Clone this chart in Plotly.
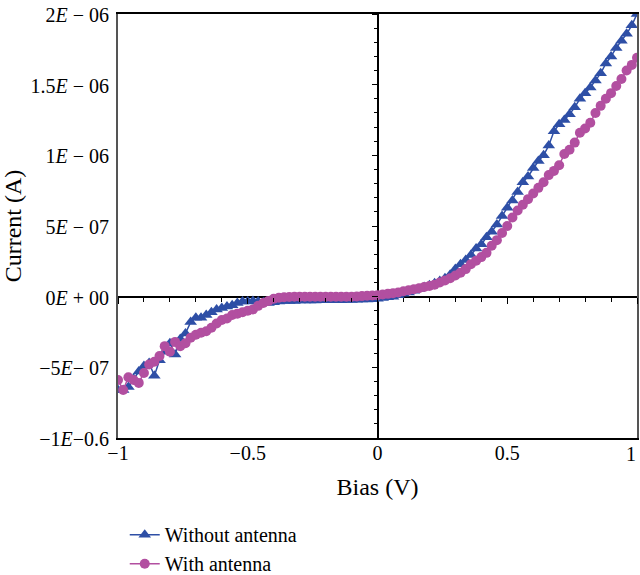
import plotly.graph_objects as go

bias = [-1.00, -0.98, -0.96, -0.94, -0.92, -0.90, -0.88, -0.86, -0.84, -0.82,
        -0.80, -0.78, -0.76, -0.74, -0.72, -0.70, -0.68, -0.66, -0.64, -0.62,
        -0.60, -0.58, -0.56, -0.54, -0.52, -0.50, -0.48, -0.46, -0.44, -0.42,
        -0.40, -0.38, -0.36, -0.34, -0.32, -0.30, -0.28, -0.26, -0.24, -0.22,
        -0.20, -0.18, -0.16, -0.14, -0.12, -0.10, -0.08, -0.06, -0.04, -0.02,
        0.00, 0.02, 0.04, 0.06, 0.08, 0.10, 0.12, 0.14, 0.16, 0.18,
        0.20, 0.22, 0.24, 0.26, 0.28, 0.30, 0.32, 0.34, 0.36, 0.38,
        0.40, 0.42, 0.44, 0.46, 0.48, 0.50, 0.52, 0.54, 0.56, 0.58,
        0.60, 0.62, 0.64, 0.66, 0.68, 0.70, 0.72, 0.74, 0.76, 0.78,
        0.80, 0.82, 0.84, 0.86, 0.88, 0.90, 0.92, 0.94, 0.96, 0.98, 1.00]

# currents in units of 1e-7 A
without_antenna_e7 = [
    -6.6, -6.6, -6.4, -5.8, -5.3, -4.9, -4.7, -5.6, -4.5, -3.9,
    -3.3, -4.1, -3.0, -2.6, -1.8, -1.5, -1.5, -1.3, -1.1, -0.9,
    -0.8, -0.7, -0.6, -0.45, -0.35, -0.35, -0.3, -0.35, -0.4, -0.45,
    -0.4, -0.35, -0.3, -0.3, -0.3, -0.28, -0.28, -0.27, -0.27, -0.26,
    -0.26, -0.25, -0.25, -0.25, -0.24, -0.24, -0.22, -0.2, -0.2, -0.18,
    -0.15, -0.1, -0.05, 0.0, 0.1, 0.2, 0.3, 0.42, 0.55, 0.68,
    0.8, 0.95, 1.1, 1.3, 1.55, 1.95, 2.3, 2.6, 2.95, 3.4,
    3.7, 4.2, 4.6, 5.1, 5.7, 6.3, 6.8, 7.4, 8.1, 8.5,
    9.1, 9.6, 10.0, 10.7, 11.7, 12.2, 12.5, 12.9, 13.4, 14.0,
    14.4, 14.8, 15.3, 15.8, 16.5, 17.0, 17.6, 18.1, 18.6, 19.2, 20.0]

with_antenna_e7 = [
    -5.9, -6.6, -5.7, -5.9, -6.1, -5.4, -4.8, -4.6, -4.2, -3.5,
    -3.9, -3.2, -3.5, -3.3, -2.9, -2.7, -2.55, -2.45, -2.2, -1.9,
    -1.65, -1.55, -1.3, -1.2, -1.1, -1.0, -0.9, -0.65, -0.45, -0.3,
    -0.15, -0.08, -0.04, -0.02, 0.0, 0.0, 0.0, 0.0, 0.0, 0.0,
    0.0, 0.0, 0.0, 0.0, 0.0, 0.0, 0.02, 0.04, 0.06, 0.08,
    0.1, 0.15, 0.2, 0.25, 0.3, 0.38, 0.45, 0.52, 0.6, 0.68,
    0.75, 0.85, 1.0, 1.15, 1.3, 1.5, 1.7, 1.95, 2.3, 2.55,
    2.8, 3.1, 3.6, 4.0, 4.5, 5.0, 5.6, 6.1, 6.5, 6.9,
    7.3, 7.7, 8.1, 8.6, 8.9, 9.3, 10.1, 10.4, 10.9, 11.6,
    11.9, 12.3, 13.0, 13.5, 14.0, 14.4, 14.9, 15.4, 16.0, 16.4, 16.9]

without_antenna = [v * 1e-7 for v in without_antenna_e7]
with_antenna = [v * 1e-7 for v in with_antenna_e7]

x_tickvals = [-1, -0.5, 0, 0.5]
x_ticktext = ["\u22121", "\u22120.5", "0", "0.5"]
x_last_label = "1"
y_tickvals = [2e-6, 1.5e-6, 1e-6, 5e-7, 0, -5e-7, -1e-6]
y_ticktext = ["2<i>E</i> \u2212 06", "1.5<i>E</i> \u2212 06", "1<i>E</i> \u2212 06",
              "5<i>E</i> \u2212 07", "0<i>E</i> + 00", "\u22125<i>E</i>\u2212 07",
              "\u22121<i>E</i>\u22120.6"]

BLUE = "#2e4fa6"
MAGENTA = "#b24fa0"
FONT = "Liberation Serif"
FS = 20

fig = go.Figure()
fig.add_trace(go.Scatter(x=bias, y=without_antenna, mode="lines+markers",
                         name="Without antenna",
                         line=dict(color=BLUE, width=1.5),
                         marker=dict(symbol="triangle-up", size=11, color=BLUE)))
fig.add_trace(go.Scatter(x=bias, y=with_antenna, mode="lines+markers",
                         name="With antenna",
                         line=dict(color=MAGENTA, width=1.5),
                         marker=dict(symbol="circle", size=10, color=MAGENTA)))
# invisible helper traces for the tick axes through the origin
fig.add_trace(go.Scatter(x=[-1, 1], y=[0, 0], xaxis="x2", yaxis="y", mode="lines",
                         line=dict(width=0), showlegend=False, hoverinfo="skip"))
fig.add_trace(go.Scatter(x=[0, 0], y=[-1e-6, 2e-6], xaxis="x", yaxis="y2", mode="lines",
                         line=dict(width=0), showlegend=False, hoverinfo="skip"))

# last x tick label, nudged left so it stays inside the page
fig.add_annotation(x=1, xref="paper", y=0, yref="paper", yanchor="top",
                   xanchor="right", xshift=1, yshift=-3, showarrow=False,
                   text=x_last_label, font=dict(family=FONT, size=FS, color="black"))

fig.update_layout(
    width=640, height=575,
    margin=dict(l=118, r=3, t=14, b=137, autoexpand=False),
    paper_bgcolor="white", plot_bgcolor="white",
    font=dict(family=FONT, size=FS, color="black"),
    showlegend=True,
    legend=dict(x=0.013, y=-0.182, xanchor="left", yanchor="top",
                font=dict(family=FONT, size=FS), tracegroupgap=0,
                bgcolor="rgba(0,0,0,0)"),
    xaxis=dict(range=[-1, 1], showgrid=False, zeroline=True, zerolinecolor="black",
               zerolinewidth=1.5, showline=True, linecolor="black", linewidth=2,
               mirror=True, ticks="", tickvals=x_tickvals, ticktext=x_ticktext,
               automargin=False, ticklabelstandoff=-4, ticklabeloverflow="allow",
               title=dict(text="Bias (V)", standoff=15), tickfont=dict(size=FS)),
    yaxis=dict(range=[-1e-6, 2e-6], showgrid=False, zeroline=True, zerolinecolor="black",
               zerolinewidth=1.5, showline=True, linecolor="#555555", linewidth=2,
               mirror=True, ticks="", tickvals=y_tickvals, ticktext=y_ticktext,
               automargin=False, ticklabelstandoff=3, ticklabeloverflow="allow",
               ticklabelshift=1,
               title=dict(text="Current (A)", standoff=9), tickfont=dict(size=FS)),
    xaxis2=dict(overlaying="x", anchor="free", position=1/3, range=[-1, 1],
                showgrid=False, zeroline=False, showline=False, showticklabels=False,
                ticks="outside", tick0=0, dtick=0.5, ticklen=6, tickwidth=1, tickcolor="black",
                minor=dict(ticks="outside", dtick=0.1, ticklen=4, tickcolor="black")),
    yaxis2=dict(overlaying="y", anchor="free", position=0.5, range=[-1e-6, 2e-6],
                showgrid=False, zeroline=False, showline=False, showticklabels=False,
                ticks="outside", tick0=0, dtick=5e-7, ticklen=6, tickwidth=1, tickcolor="black",
                minor=dict(ticks="outside", dtick=1e-7, ticklen=4, tickcolor="black")),
)

fig.write_html("out.html", config={"displayModeBar": False},
               post_script="document.body.style.margin='0';document.body.style.overflow='hidden';")
